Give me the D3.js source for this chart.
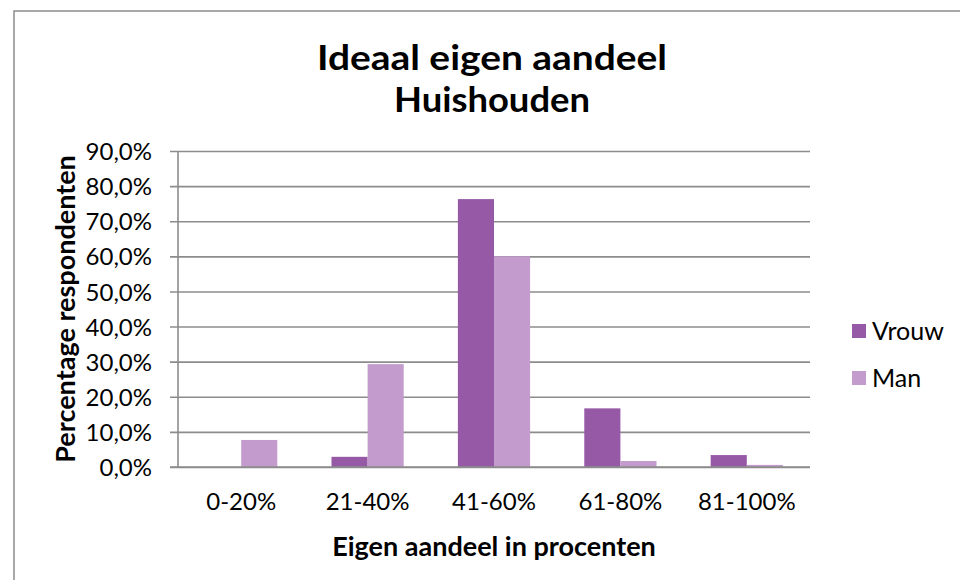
<!DOCTYPE html>
<html><head><meta charset="utf-8">
<script src="https://cdn.jsdelivr.net/npm/d3@7"></script>
<style>body{margin:0;background:#fff}svg{display:block}text{font-family:Lato,"Open Sans",sans-serif;fill:#000}</style>
</head><body>
<svg id="c" width="960" height="580"></svg>
<script>
const categories = ["0-20%","21-40%","41-60%","61-80%","81-100%"];
const seriesNames = ["Vrouw","Man"];
const vrouw = [0, 2.9, 76.3, 16.7, 3.4];
const man = [7.7, 29.3, 60.0, 1.7, 0.6];
const yTicks = [0,10,20,30,40,50,60,70,80,90];
const colors = ["#9659a6","#c39bcc"];

(function(){
const svg = d3.select("#c");
svg.append("rect").attr("x",14).attr("y",11).attr("width",960).attr("height",600)
  .attr("fill","#fff").attr("stroke","#8c8c8c").attr("stroke-width",1.5);

const pLeft=178, pRight=810, pTop=151, pBottom=467;
const x = d3.scaleBand().domain(categories).range([pLeft,pRight]);
const y = d3.scaleLinear().domain([0,90]).range([pBottom,pTop]);

const yAxis = d3.axisLeft(y).tickValues(yTicks).tickSize(-(pRight-pLeft)).tickSizeOuter(0)
  .tickFormat(d=>d3.format(".1f")(d).replace(".",",")+"%");
const ga = svg.append("g").attr("transform",`translate(${pLeft},0)`).call(yAxis);
ga.select(".domain").remove();
ga.selectAll(".tick line").attr("stroke","#8c8c8c").attr("stroke-width",1.6).attr("x1",-8);
ga.selectAll(".tick text").attr("x",-26).attr("font-size",24).attr("dy","0.36em").style("font-family","Lato").attr("fill","#000");
svg.append("line").attr("x1",pLeft).attr("x2",pLeft).attr("y1",pTop).attr("y2",pBottom)
  .attr("stroke","#8c8c8c").attr("stroke-width",1.6);

const data = categories.map((c,i)=>({c, vals:[vrouw[i],man[i]]}));
const bw = x.bandwidth()/(2+1.5);
const g = svg.append("g");
data.forEach(d=>{
  d.vals.forEach((v,j)=>{
    if(v<=0) return;
    const x0 = x(d.c) + x.bandwidth()/2 - bw + j*bw;
    g.append("rect").attr("x",x0).attr("width",bw).attr("y",y(v)).attr("height",y(0)-y(v))
      .attr("fill",colors[j]);
  });
});

const xAxis = d3.axisBottom(x).tickSize(0);
const gx = svg.append("g").attr("transform",`translate(0,${pBottom})`).call(xAxis);
gx.select(".domain").remove();
gx.selectAll(".tick text").attr("font-size",24).attr("y",26).attr("dy","0.71em").style("font-family","Lato").attr("fill","#000");
svg.append("line").attr("x1",pLeft-8).attr("x2",pRight).attr("y1",pBottom).attr("y2",pBottom)
  .attr("stroke","#8c8c8c").attr("stroke-width",1.6);

svg.append("text").attr("x",492).attr("y",70).attr("text-anchor","middle").attr("font-size",35).attr("font-weight","bold")
  .attr("textLength",350).attr("lengthAdjust","spacingAndGlyphs").text("Ideaal eigen aandeel");
svg.append("text").attr("x",492).attr("y",112).attr("text-anchor","middle").attr("font-size",35).attr("font-weight","bold")
  .attr("textLength",196).attr("lengthAdjust","spacingAndGlyphs").text("Huishouden");
svg.append("text").attr("x",494).attr("y",556).attr("text-anchor","middle").attr("font-size",27).attr("font-weight","bold").text("Eigen aandeel in procenten");
svg.append("text").attr("transform","translate(75,309) rotate(-90)").attr("text-anchor","middle").attr("font-size",27).attr("font-weight","bold").text("Percentage respondenten");

const lg = svg.append("g");
seriesNames.forEach((s,i)=>{
  const yy = 331 + i*47;
  lg.append("rect").attr("x",852).attr("y",yy-7).attr("width",14).attr("height",14).attr("fill",colors[i]);
  lg.append("text").attr("x",872).attr("y",yy).attr("dy","0.36em").attr("font-size",25).text(s);
});
})();
</script>
</body></html>
